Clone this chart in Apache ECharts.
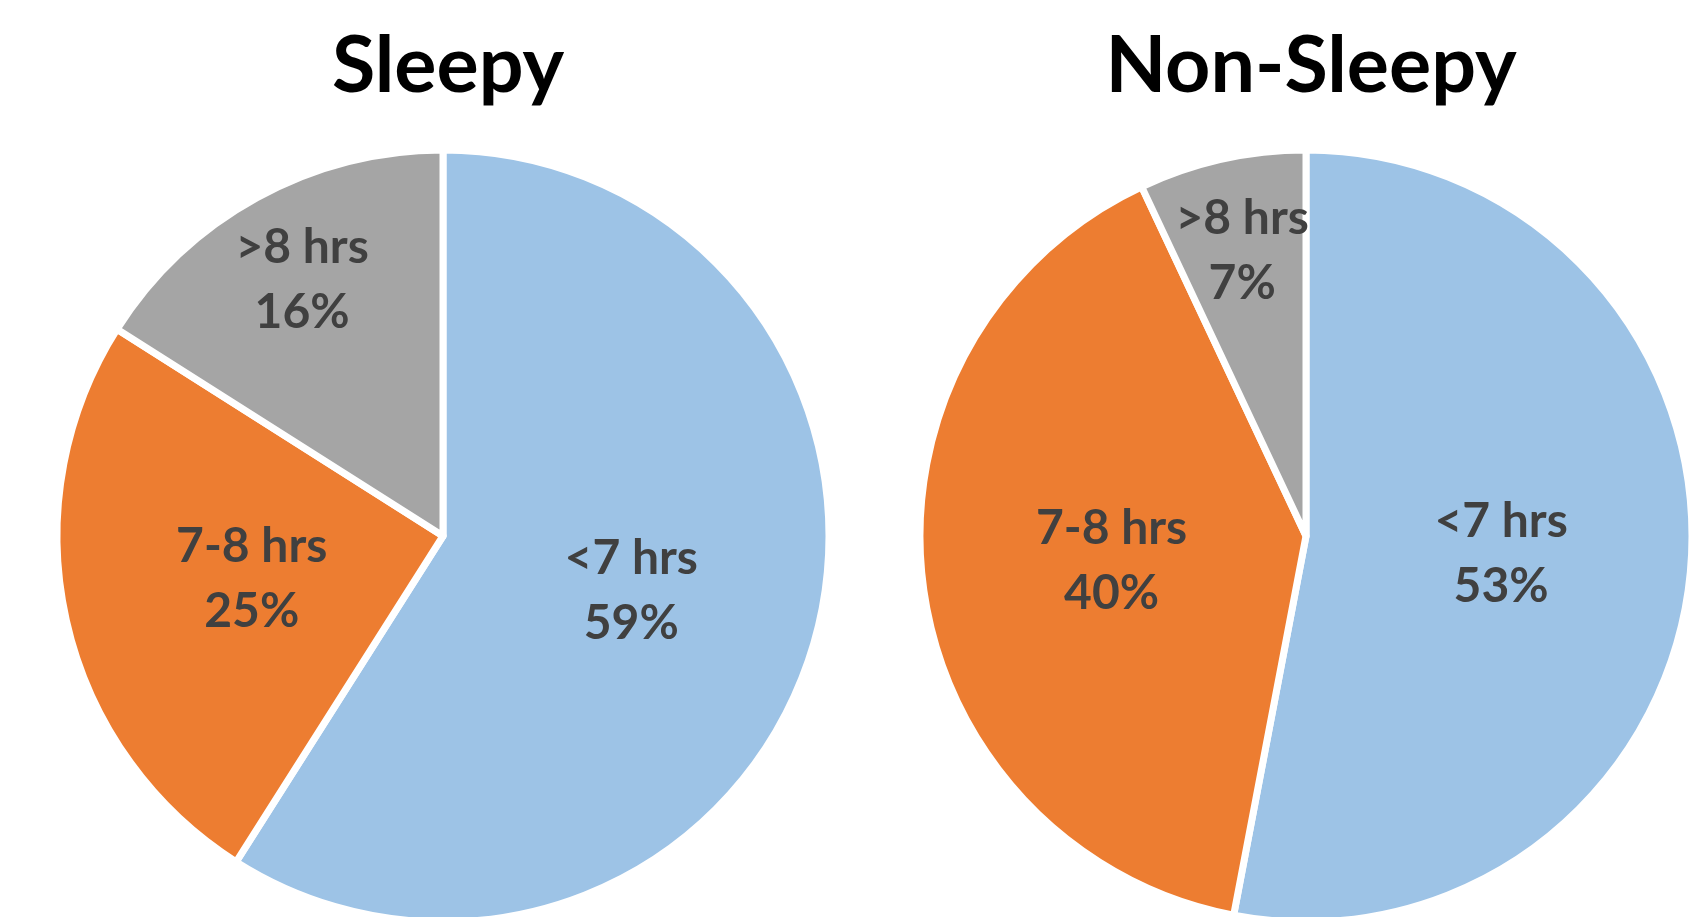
<!DOCTYPE html>
<html>
<head>
<meta charset="utf-8">
<title>Sleep duration: Sleepy vs Non-Sleepy</title>
<script src="https://cdn.jsdelivr.net/npm/echarts@6/dist/echarts.min.js"></script>
<style>
  html, body { margin: 0; padding: 0; background: #fff; }
  #chart { width: 1694px; height: 917px; }
</style>
</head>
<body>
<div id="chart"></div>
<script>
// Sleep duration categories and the share of each group (percent)
const categories = ['<7 hrs', '7-8 hrs', '>8 hrs'];
const sleepyValues = [59, 25, 16];
const nonSleepyValues = [53, 40, 7];
const groupTitles = ['Sleepy', 'Non-Sleepy'];

const colors = ['#9DC3E6', '#ED7D31', '#A5A5A5'];
const FONT = 'Lato, "Open Sans", sans-serif';
const RADIUS = 386;
const centers = [[443, 536], [1306, 536]];

const labelStyle = {
  color: '#404040',
  fontFamily: FONT,
  fontWeight: 'bold',
  fontSize: 48,
  lineHeight: 65,
  formatter: p => p.name + '\n' + p.value + '%'
};

function toData(values) {
  return categories.map((name, i) => ({ name, value: values[i] }));
}

// Main pie: coloured slices, labels of the two big slices at mid radius
function mainPie(values, center) {
  return {
    type: 'pie',
    center: center,
    radius: [0, RADIUS],
    startAngle: 90,
    clockwise: true,
    silent: true,
    color: colors,
    itemStyle: { borderColor: '#fff', borderWidth: 7 },
    label: Object.assign({ show: true, position: 'inside' }, labelStyle),
    labelLine: { show: false },
    data: toData(values).map((d, i) => i === 2 ? Object.assign(d, { label: { show: false } }) : d)
  };
}

// Transparent ring on top: places the small-slice label further out
function outerLabelRing(values, center) {
  return {
    type: 'pie',
    center: center,
    radius: [RADIUS * 0.5, RADIUS],
    startAngle: 90,
    clockwise: true,
    silent: true,
    itemStyle: { color: 'rgba(0,0,0,0)', borderWidth: 0 },
    label: Object.assign({ show: true, position: 'inside' }, labelStyle),
    labelLine: { show: false },
    data: toData(values).map((d, i) => i === 2 ? d : Object.assign(d, { label: { show: false } }))
  };
}

const chart = echarts.init(document.getElementById('chart'), null, { renderer: 'canvas' });
chart.setOption({
  backgroundColor: '#fff',
  animation: false,
  title: groupTitles.map((t, i) => ({
    text: t,
    left: centers[i][0],
    top: 22,
    textAlign: 'center',
    textStyle: { color: '#000', fontFamily: FONT, fontWeight: 'bold', fontSize: 79 }
  })),
  series: [
    mainPie(sleepyValues, centers[0]),
    mainPie(nonSleepyValues, centers[1]),
    outerLabelRing(sleepyValues, centers[0]),
    outerLabelRing(nonSleepyValues, centers[1])
  ]
});
</script>
</body>
</html>
